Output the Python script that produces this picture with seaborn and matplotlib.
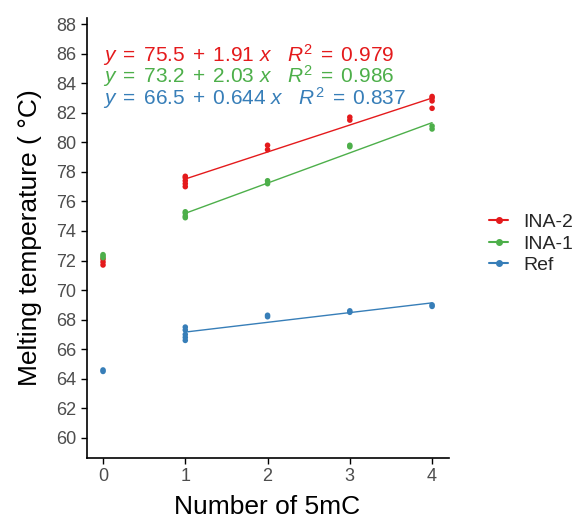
import numpy as np
import pandas as pd
import matplotlib
matplotlib.use("Agg")
import matplotlib.pyplot as plt
import seaborn as sns
from matplotlib.lines import Line2D

# Data
groups = ["INA-2", "INA-1", "Ref"]
colors = {"INA-2": "#E41A1C", "INA-1": "#4DAF4A", "Ref": "#377EB8"}

ina2_x = [0, 0, 0, 1, 1, 1, 1, 1, 2, 2, 3, 3, 4, 4, 4, 4]
ina2_y = [71.7, 71.9, 72.1, 77.0, 77.2, 77.4, 77.6, 77.7, 79.5, 79.8, 81.5, 81.7, 82.3, 82.8, 83.0, 83.1]
ina1_x = [0, 0, 0, 1, 1, 1, 1, 2, 2, 3, 3, 4, 4]
ina1_y = [72.2, 72.3, 72.4, 74.9, 75.0, 75.2, 75.3, 77.2, 77.4, 79.7, 79.8, 80.9, 81.1]
ref_x = [0, 0, 1, 1, 1, 1, 1, 2, 2, 3, 3, 4, 4]
ref_y = [64.5, 64.6, 66.6, 66.8, 67.0, 67.3, 67.5, 68.2, 68.3, 68.5, 68.6, 68.9, 69.0]

eq_labels = {
    "INA-2": r"$y\;=\;75.5\;+\;1.91\ x\ \ \ R^2\;=\;0.979$",
    "INA-1": r"$y\;=\;73.2\;+\;2.03\ x\ \ \ R^2\;=\;0.986$",
    "Ref": r"$y\;=\;66.5\;+\;0.644\ x\ \ \ R^2\;=\;0.837$",
}
eq_y = [85.9, 84.5, 83.0]

df = pd.concat([
    pd.DataFrame({"n": ina2_x, "tm": ina2_y, "group": "INA-2"}),
    pd.DataFrame({"n": ina1_x, "tm": ina1_y, "group": "INA-1"}),
    pd.DataFrame({"n": ref_x, "tm": ref_y, "group": "Ref"}),
])

sns.set_style("white")
plt.rcParams["font.family"] = ["Liberation Sans", "DejaVu Sans"]
plt.rcParams["mathtext.fontset"] = "custom"
plt.rcParams["mathtext.rm"] = "Liberation Sans"
plt.rcParams["mathtext.it"] = "Liberation Sans:italic"

fig = plt.figure(figsize=(5.81, 5.18), dpi=100)
ax = fig.add_axes([0.149, 0.116, 0.623, 0.849])

sns.scatterplot(data=df, x="n", y="tm", hue="group", palette=colors,
                s=16, edgecolor="none", legend=False, ax=ax)

# fitted lines only over the methylated points (x >= 1)
for g in groups:
    sub = df[(df["group"] == g) & (df["n"] >= 1)]
    sns.regplot(data=sub, x="n", y="tm", ci=None, scatter=False, truncate=True,
                line_kws={"color": colors[g], "lw": 1.0}, ax=ax)

for g, yy in zip(groups, eq_y):
    ax.text(0.0, yy, eq_labels[g], color=colors[g], fontsize=15,
            ha="left", va="center")

ax.set_xlim(-0.2, 4.2)
ax.set_ylim(58.65, 88.4)
ax.set_xticks([0, 1, 2, 3, 4])
ax.set_yticks(np.arange(60, 89, 2))
ax.set_xlabel("Number of 5mC", fontsize=19, color="black", labelpad=7)
ax.set_ylabel("Melting temperature ( °C)", fontsize=19, color="black", labelpad=10)
ax.tick_params(axis="both", labelsize=13, labelcolor="#4D4D4D",
               length=4, width=1, color="black", direction="out",
               bottom=True, left=True)
sns.despine(ax=ax)
for side in ["left", "bottom"]:
    ax.spines[side].set_color("black")
    ax.spines[side].set_linewidth(1.2)

handles = [Line2D([0], [0], color=colors[g], lw=1.5, marker="o", markersize=4)
           for g in groups]
fig.legend(handles, groups, loc="center left", bbox_to_anchor=(0.829, 0.529),
           frameon=False, fontsize=14, handlelength=0.95, labelspacing=0.2,
           handletextpad=0.8, borderaxespad=0.0)

fig.savefig("out.png", dpi=100)
